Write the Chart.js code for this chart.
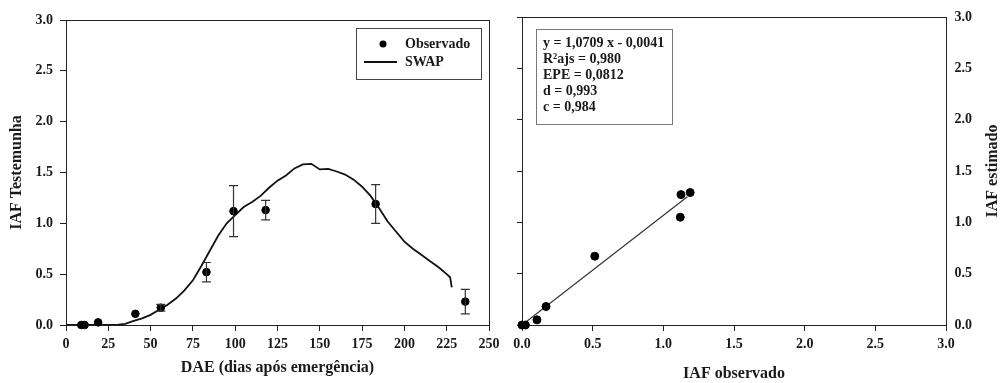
<!DOCTYPE html>
<html><head><meta charset="utf-8">
<script src="https://cdn.jsdelivr.net/npm/chart.js@4.4.1/dist/chart.umd.min.js"></script>
<style>
html,body{margin:0;padding:0;background:#fff;}
#wrap{position:relative;width:1001px;height:383px;overflow:hidden;background:#fff;}
#c1{position:absolute;left:0;top:0;}
#c2{position:absolute;left:500px;top:0;}
</style></head><body>
<div id="wrap"><canvas id="c1" width="520" height="383"></canvas><canvas id="c2" width="501" height="383"></canvas></div>
<script>
// ---- data ----
const swapDays = [0,5,10,15,20,25,30,35,40,45,50,55,60,65,70,75,80,85,90,95,100,105,110,115,120,125,130,135,140,145,150,155,160,165,170,175,180,185,190,195,200,205,210,215,220,225,227,228];
const swapIAF  = [0,0,0,0,0,0,0,0.012,0.04,0.065,0.10,0.15,0.20,0.26,0.34,0.44,0.58,0.73,0.88,1.00,1.08,1.16,1.21,1.27,1.35,1.42,1.47,1.54,1.58,1.585,1.53,1.535,1.51,1.48,1.43,1.36,1.27,1.15,1.02,0.92,0.82,0.75,0.69,0.63,0.57,0.50,0.47,0.37];
const obsDays = [9,11,19,41,56,83,99,118,183,236];
const obsIAF  = [0.0,0.0,0.026,0.11,0.17,0.52,1.12,1.13,1.19,0.23];
const obsErr  = [0,0,0,0,0.033,0.095,0.25,0.095,0.19,0.12];
const scatObs = [0.0,0.024,0.106,0.17,0.515,1.12,1.125,1.19];
const scatEst = [0.0,0.0,0.05,0.18,0.67,1.05,1.27,1.29];
const fitX = [0,1.17];
const fitY = [0,1.25];
const dayTicks = [0,25,50,75,100,125,150,175,200,225,250];
const iafTicks = [0,0.5,1.0,1.5,2.0,2.5,3.0];
const statLines = ['y = 1,0709 x - 0,0041','R\u00B2ajs = 0,980','EPE = 0,0812','d = 0,993','c = 0,984'];

const serif = "'Liberation Serif','Times New Roman',serif";
const ink = '#1a1a1a';
const tickFont = {family:serif,size:14,weight:'bold'};
const titleFont = {family:serif,size:16,weight:'bold'};

const boxPlugin = {
  id:'box',
  beforeDatasetsDraw(chart){
    const {ctx, chartArea:a} = chart;
    ctx.save();
    ctx.strokeStyle = '#222'; ctx.lineWidth = 1;
    ctx.strokeRect(Math.round(a.left)+0.5, Math.round(a.top)+0.5, Math.round(a.right-a.left), Math.round(a.bottom-a.top));
    ctx.restore();
  }
};

const errPlugin = {
  id:'err',
  afterDatasetsDraw(chart){
    const {ctx, scales:{x,y}} = chart;
    ctx.save();
    ctx.strokeStyle = '#333'; ctx.lineWidth = 1.2;
    obsDays.forEach((d,i)=>{
      if(!obsErr[i]) return;
      const px = x.getPixelForValue(d);
      const y1 = y.getPixelForValue(obsIAF[i]-obsErr[i]);
      const y2 = y.getPixelForValue(obsIAF[i]+obsErr[i]);
      ctx.beginPath();
      ctx.moveTo(px,y1); ctx.lineTo(px,y2);
      ctx.moveTo(px-4.5,y1); ctx.lineTo(px+4.5,y1);
      ctx.moveTo(px-4.5,y2); ctx.lineTo(px+4.5,y2);
      ctx.stroke();
    });
    ctx.restore();
  }
};

const legendPlugin = {
  id:'legbox',
  afterDraw(chart){
    const ctx = chart.ctx;
    const ds = chart.data.datasets;
    ctx.save();
    ctx.strokeStyle = '#444'; ctx.lineWidth = 1;
    ctx.strokeRect(356.5, 28.5, 125, 51);
    ctx.font = `bold 14px ${serif}`; ctx.fillStyle = ink; ctx.textBaseline = 'middle'; ctx.textAlign='left';
    ctx.beginPath(); ctx.arc(383,44,3.5,0,Math.PI*2); ctx.fillStyle='#000'; ctx.fill();
    ctx.fillStyle = ink; ctx.fillText(ds[0].label, 405, 44);
    ctx.beginPath(); ctx.moveTo(364,62); ctx.lineTo(397,62); ctx.strokeStyle='#111'; ctx.lineWidth=1.8; ctx.stroke();
    ctx.fillText(ds[1].label, 405, 62);
    ctx.restore();
  }
};

const statPlugin = {
  id:'stat',
  afterDraw(chart){
    const ctx = chart.ctx;
    ctx.save();
    ctx.strokeStyle = '#777'; ctx.lineWidth = 1;
    ctx.strokeRect(36.5, 29.5, 136, 95);
    ctx.font = `bold 14px ${serif}`; ctx.fillStyle = ink; ctx.textBaseline='middle'; ctx.textAlign='left';
    statLines.forEach((t,i)=>ctx.fillText(t, 43, 43.5 + i*15.9));
    const a = chart.chartArea;
    ctx.translate(493, (a.top+a.bottom)/2);
    ctx.rotate(-Math.PI/2);
    ctx.font = `bold 16px ${serif}`; ctx.textAlign='center';
    ctx.fillText('IAF estimado', 0, 0);
    ctx.restore();
  }
};

const fix1 = v => Number(v).toFixed(1);

new Chart(document.getElementById('c1'), {
  type:'scatter',
  data:{datasets:[
    {label:'Observado', data: obsDays.map((d,i)=>({x:d,y:obsIAF[i]})), backgroundColor:'#000', borderColor:'#000', pointRadius:3.8, pointHoverRadius:3.8, clip:false},
    {label:'SWAP', data: swapDays.map((d,i)=>({x:d,y:swapIAF[i]})), showLine:true, borderColor:'#111', borderWidth:1.8, pointRadius:0, tension:0, fill:false}
  ]},
  options:{
    responsive:false, animation:false, devicePixelRatio:1,
    layout:{padding:{left:0,top:20,right:31,bottom:0}},
    plugins:{legend:{display:false}, tooltip:{enabled:false}},
    scales:{
      x:{type:'linear', min:0, max:250,
        afterBuildTicks(s){ s.ticks = dayTicks.map(v=>({value:v})); },
        afterFit(s){ s.height = 58; },
        grid:{display:true, drawOnChartArea:false, drawTicks:true, tickLength:6, color:'#222', tickColor:'#222'},
        border:{display:false},
        ticks:{font:tickFont, color:ink, padding:5, maxRotation:0, autoSkip:false, callback:v=>String(v)},
        title:{display:true, text:'DAE (dias após emergência)', font:titleFont, color:ink, padding:{top:0,bottom:6}}
      },
      y:{type:'linear', min:0, max:3,
        afterBuildTicks(s){ s.ticks = iafTicks.map(v=>({value:v})); },
        afterFit(s){ s.width = 66; },
        grid:{display:true, drawOnChartArea:false, drawTicks:true, tickLength:6, color:'#222', tickColor:'#222'},
        border:{display:false},
        ticks:{font:tickFont, color:ink, padding:7, autoSkip:false, callback:fix1},
        title:{display:true, text:'IAF Testemunha', font:titleFont, color:ink, padding:{top:7.4,bottom:0}}
      }
    }
  },
  plugins:[boxPlugin, errPlugin, legendPlugin]
});

new Chart(document.getElementById('c2'), {
  type:'scatter',
  data:{datasets:[
    {label:'Estimado', data: scatObs.map((v,i)=>({x:v,y:scatEst[i]})), backgroundColor:'#000', borderColor:'#000', pointRadius:4, pointHoverRadius:4, yAxisID:'y', clip:false},
    {label:'Ajuste', data: fitX.map((v,i)=>({x:v,y:fitY[i]})), showLine:true, borderColor:'#333', borderWidth:1.2, pointRadius:0, yAxisID:'y'}
  ]},
  options:{
    responsive:false, animation:false, devicePixelRatio:1,
    layout:{padding:{left:0,top:17,right:0,bottom:0}},
    plugins:{legend:{display:false}, tooltip:{enabled:false}},
    scales:{
      x:{type:'linear', min:0, max:3,
        afterBuildTicks(s){ s.ticks = iafTicks.map(v=>({value:v})); },
        afterFit(s){ s.height = 58; },
        grid:{display:true, drawOnChartArea:false, drawTicks:true, tickLength:6, color:'#222', tickColor:'#222'},
        border:{display:false},
        ticks:{font:tickFont, color:ink, padding:5, maxRotation:0, autoSkip:false, callback:fix1},
        title:{display:true, text:'IAF observado', font:titleFont, color:ink, padding:{top:0,bottom:0}}
      },
      y:{type:'linear', position:'right', min:0, max:3,
        afterBuildTicks(s){ s.ticks = iafTicks.map(v=>({value:v})); },
        afterFit(s){ s.width = 55; },
        grid:{display:false, drawOnChartArea:false, drawTicks:false},
        border:{display:false},
        ticks:{font:tickFont, color:ink, padding:8.5, autoSkip:false, callback:fix1}
      },
      y2:{type:'linear', position:'left', min:0, max:3,
        afterBuildTicks(s){ s.ticks = iafTicks.map(v=>({value:v})); },
        afterFit(s){ s.width = 22; },
        grid:{display:true, drawOnChartArea:false, drawTicks:true, tickLength:5, color:'#222', tickColor:'#222'},
        border:{display:false},
        ticks:{display:false}
      }
    }
  },
  plugins:[boxPlugin, statPlugin]
});
</script>
</body></html>
